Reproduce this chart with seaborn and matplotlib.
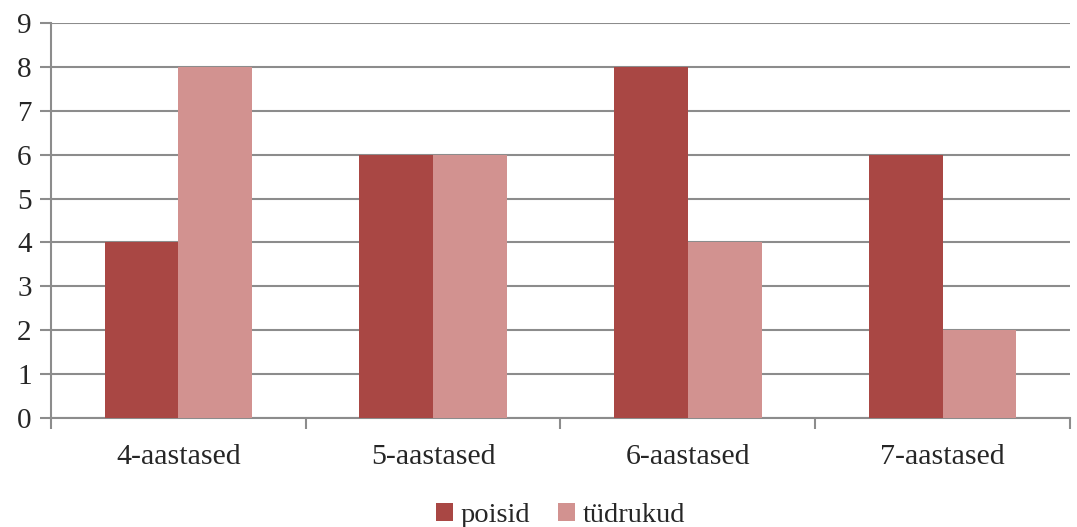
import seaborn as sns
import pandas as pd
import matplotlib.pyplot as plt

# ages and counts
categories = ["4-aastased", "5-aastased", "6-aastased", "7-aastased"]
poisid = [4, 6, 8, 6]
tudrukud = [8, 6, 4, 2]
series_names = ["poisid", "tüdrukud"]
colors = ["#A94744", "#D29290"]

df = pd.DataFrame({
    "vanus": categories * 2,
    "arv": poisid + tudrukud,
    "sugu": [series_names[0]] * 4 + [series_names[1]] * 4,
})

sns.set_style("white")
plt.rcParams["font.family"] = "serif"
plt.rcParams["font.serif"] = ["Liberation Serif", "DejaVu Serif"]
serif = ["Liberation Serif", "DejaVu Serif"]

fig = plt.figure(figsize=(10.77, 5.27), dpi=100)
ax = fig.add_axes([0.0474, 0.2068, 0.946, 0.7496])

sns.barplot(data=df, x="vanus", y="arv", hue="sugu", palette=colors,
            width=0.58, saturation=1, linewidth=0, ax=ax, zorder=3)

ax.set_ylim(0, 9)
ax.set_xlim(-0.5, 3.5)
ax.set_yticks(range(0, 10))
ax.yaxis.grid(True, color="#8c8c8c", linewidth=1.5, zorder=0)
ax.set_axisbelow(True)
ax.set_xlabel("")
ax.set_ylabel("")

for s in ["top", "right"]:
    ax.spines[s].set_visible(False)
for s in ["left", "bottom"]:
    ax.spines[s].set_color("#8c8c8c")
    ax.spines[s].set_linewidth(1.5)

ax.tick_params(axis="y", left=True, length=8, width=1.5, color="#8c8c8c",
               labelsize=21, pad=6)
ax.tick_params(axis="x", which="major", length=0, labelsize=21.5, pad=19)
ax.set_xticks([-0.5, 0.5, 1.5, 2.5, 3.5], minor=True)
ax.tick_params(axis="x", which="minor", bottom=True, length=8, width=1.5,
               color="#8c8c8c")
for lab in ax.get_xticklabels() + ax.get_yticklabels():
    lab.set_fontfamily(serif)

leg = ax.legend(loc="lower center", bbox_to_anchor=(0.5, -0.315), ncol=2,
                frameon=False, fontsize=20.5, handlelength=0.6, handleheight=0.6,
                handletextpad=0.25, columnspacing=1.0, borderpad=0)
for t in leg.get_texts():
    t.set_fontfamily(serif)

fig.savefig("out.png", dpi=100)
